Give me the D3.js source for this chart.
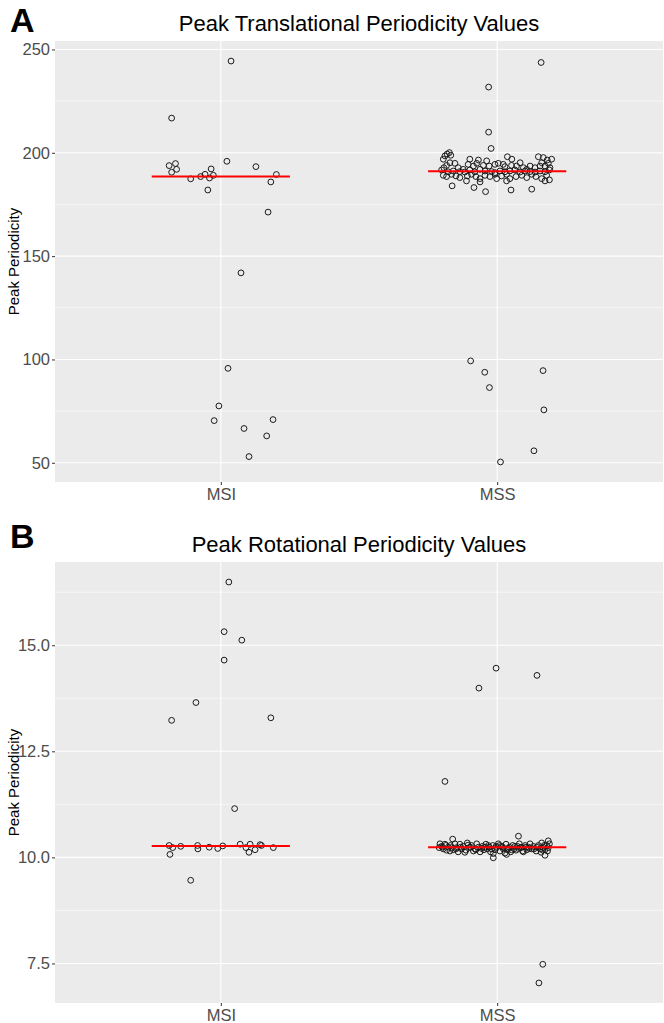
<!DOCTYPE html>
<html><head><meta charset="utf-8">
<script src="https://cdn.jsdelivr.net/npm/d3@7"></script>
<style>body{margin:0;background:#fff}svg{display:block}text{font-family:"Liberation Sans",Arial,sans-serif}</style>
</head><body><div id="chart"></div>
<script>
// ---------- DATA ----------
const categories = ["MSI", "MSS"];
const titleA = "Peak Translational Periodicity Values";
const titleB = "Peak Rotational Periodicity Values";
const yLabel = "Peak Periodicity";
const ticksA = [50, 100, 150, 200, 250];
const minorA = [75, 125, 175, 225];
const ticksB = [7.5, 10.0, 12.5, 15.0];
const tickLabelsB = ["7.5", "10.0", "12.5", "15.0"];
const minorB = [8.75, 11.25, 13.75, 16.25];
// red summary line (median)
const medianA = [188.5, 191.1];
const medianB = [10.27, 10.24];

// Panel A, MSI: values and horizontal jitter (category units)
const transMSI = [244.4,216.8,193.8,194.8,192.0,190.6,187.4,188.5,189.6,192.2,187.8,189.1,182.0,195.9,193.3,189.5,185.9,171.3,141.9,95.7,77.5,70.4,70.9,66.6,63.0,53.0];
const transMSIJit = [0.037,-0.178,-0.187,-0.164,-0.160,-0.178,-0.109,-0.073,-0.057,-0.035,-0.041,-0.027,-0.047,0.022,0.127,0.201,0.181,0.171,0.073,0.026,-0.007,-0.024,0.189,0.084,0.166,0.102];
// Panel A, MSS
const transMSS = [198.5,199.4,200.1,198.8,196.9,196.9,196.5,196.1,198.1,196.9,195.2,198.1,197.7,196.5,196.9,195.2,194.9,
195.2,194.9,193.9,192.8,192.8,192.0,194.4,193.6,194.9,193.9,193.6,194.4,194.9,194.4,193.3,193.9,193.6,192.8,192.0,193.6,192.8,193.6,193.6,192.8,
191.7,190.8,191.2,190.9,190.7,191.7,190.8,192.0,191.2,190.9,190.4,191.2,190.8,191.2,191.7,190.7,191.2,190.9,190.7,191.2,190.8,191.7,
189.1,188.5,189.6,188.8,188.0,188.8,189.6,188.5,187.5,189.1,188.5,189.6,187.5,188.8,189.6,187.5,188.5,189.1,188.0,189.6,188.5,187.5,189.1,186.9,186.4,186.4,185.9,186.4,
184.0,183.2,181.2,182.0,182.4,
243.7,231.8,210.0,202.1,99.3,93.8,86.4,94.6,75.6,55.8,50.4];
const transMSSJit = [-0.189,-0.181,-0.173,-0.168,-0.195,-0.099,-0.068,-0.038,0.037,0.053,0.083,0.149,0.167,0.181,0.197,0.161,0.185,
-0.171,-0.153,-0.183,-0.193,-0.141,-0.123,-0.105,-0.086,-0.074,-0.050,-0.029,-0.008,0.004,0.022,0.028,0.052,0.070,0.095,0.107,0.119,0.137,0.155,0.173,0.191,
-0.201,-0.177,-0.159,-0.135,-0.117,-0.099,-0.081,-0.062,-0.044,-0.020,-0.008,0.010,0.028,0.046,0.064,0.083,0.101,0.119,0.137,0.155,0.173,0.189,
-0.195,-0.183,-0.165,-0.149,-0.135,-0.108,-0.093,-0.077,-0.062,-0.044,-0.026,-0.008,-0.002,0.016,0.034,0.046,0.068,0.089,0.107,0.125,0.140,0.161,0.179,0.189,0.173,-0.111,-0.062,0.034,
-0.163,-0.084,-0.042,0.050,0.125,
0.159,-0.031,-0.031,-0.022,-0.096,-0.045,-0.028,0.166,0.169,0.133,0.012];

// Panel B, MSI
const rotMSI = [16.49,15.32,15.12,14.65,13.65,13.23,13.29,11.15,10.28,10.23,10.07,10.26,10.28,10.20,10.24,10.21,10.27,10.31,10.23,10.31,10.12,10.18,10.30,10.28,10.23,9.46];
const rotMSIJit = [0.029,0.012,0.076,0.012,-0.090,-0.178,0.181,0.050,-0.187,-0.174,-0.184,-0.145,-0.084,-0.083,-0.042,-0.011,0.007,0.070,0.091,0.106,0.102,0.124,0.142,0.147,0.190,-0.109];
// Panel B, MSS
const rotMSS = [10.32,10.26,10.20,10.23,10.31,10.17,10.24,10.28,10.18,10.32,10.23,10.13,10.31,10.20,10.26,10.17,10.34,10.23,10.28,10.15,10.20,10.32,10.24,10.13,10.26,10.18,10.31,10.20,10.24,10.13,10.28,10.18,10.23,10.32,10.15,10.26,10.20,10.10,10.31,10.18,10.24,10.13,10.28,10.20,10.17,10.26,10.32,10.23,10.15,10.28,10.18,10.24,10.32,10.20,10.26,10.15,10.28,10.20,10.34,10.24,10.18,10.28,10.23,10.32,
10.24,10.23,10.24,10.24,10.21,10.28,10.26,10.24,10.21,10.26,10.24,10.21,10.24,10.28,10.15,10.12,10.09,10.07,10.13,10.12,
10.28,10.20,10.29,10.18,10.24,10.20,10.28,10.18,10.21,10.24,10.20,10.17,10.15,
10.43,10.50,9.99,10.05,10.39,
11.79,13.99,14.46,14.29,7.48,7.04];
const rotMSSJit = [-0.207,-0.201,-0.195,-0.210,-0.189,-0.183,-0.177,-0.169,-0.159,-0.153,-0.147,-0.141,-0.135,-0.129,-0.123,-0.113,-0.108,-0.101,-0.093,-0.086,-0.080,-0.074,-0.068,-0.062,-0.053,-0.048,-0.041,-0.036,-0.029,-0.024,-0.016,-0.008,-0.002,0.004,0.010,0.016,0.022,0.028,0.032,0.037,0.044,0.049,0.056,0.061,0.068,0.073,0.080,0.085,0.092,0.101,0.107,0.113,0.119,0.125,0.131,0.141,0.149,0.155,0.161,0.167,0.173,0.179,0.185,0.189,
-0.198,-0.165,-0.132,-0.096,-0.056,-0.032,-0.004,0.020,0.040,0.064,0.089,0.116,0.143,0.170,-0.171,-0.117,-0.014,0.034,0.095,0.159,
-0.186,-0.149,-0.105,-0.077,-0.044,-0.020,0.008,0.052,0.077,0.104,0.133,0.165,0.182,
-0.161,0.077,-0.014,0.173,0.185,
-0.189,-0.066,-0.004,0.144,0.165,0.151];

// ---------- DRAWING ----------
const W = 664, H = 1023;
const svg = d3.select("#chart").append("svg").attr("width", W).attr("height", H);

function panel(cfg) {
  const {top, bottom, left, right, title, letter, letterY, groups, jits, medians, ticks, tickLabels, minor} = cfg;
  const g = svg.append("g");
  const all = groups.flat();
  const [lo, hi] = d3.extent(all);
  const pad = (hi - lo) * 0.05;
  const y = d3.scaleLinear().domain([lo - pad, hi + pad]).range([bottom, top]);
  const x = d3.scaleLinear().domain([0.4, 2.6]).range([left, right]);

  g.append("rect").attr("x", left).attr("y", top).attr("width", right - left).attr("height", bottom - top).attr("fill", "#EBEBEB");
  // minor grid
  g.selectAll(".mn").data(minor.filter(v => y(v) > top && y(v) < bottom)).join("line")
    .attr("x1", left).attr("x2", right).attr("y1", d => y(d)).attr("y2", d => y(d))
    .attr("stroke", "#fff").attr("stroke-width", 0.55);
  // major grid
  g.selectAll(".mj").data(ticks).join("line")
    .attr("x1", left).attr("x2", right).attr("y1", d => y(d)).attr("y2", d => y(d))
    .attr("stroke", "#fff").attr("stroke-width", 1.1);
  g.selectAll(".vx").data(categories).join("line")
    .attr("x1", (d, i) => x(i + 1)).attr("x2", (d, i) => x(i + 1)).attr("y1", top).attr("y2", bottom)
    .attr("stroke", "#fff").attr("stroke-width", 1.1);

  // y axis
  const yAxis = d3.axisLeft(y).tickValues(ticks).tickSize(3).tickPadding(2)
    .tickFormat((d, i) => tickLabels ? tickLabels[i] : d);
  const ya = g.append("g").attr("transform", `translate(${left},0)`).call(yAxis);
  ya.select(".domain").remove();
  ya.selectAll("line").attr("stroke", "#333").attr("stroke-width", 1);
  ya.selectAll("text").attr("fill", "#4D4D4D").attr("font-size", 16.5);
  // x axis
  const xAxis = d3.axisBottom(x).tickValues([1, 2]).tickSize(3).tickPadding(3)
    .tickFormat(d => categories[d - 1]);
  const xa = g.append("g").attr("transform", `translate(0,${bottom})`).call(xAxis);
  xa.select(".domain").remove();
  xa.selectAll("line").attr("stroke", "#333").attr("stroke-width", 1);
  xa.selectAll("text").attr("fill", "#4D4D4D").attr("font-size", 16.5);

  // points
  groups.forEach((vals, gi) => {
    g.append("g").selectAll("circle").data(vals).join("circle")
      .attr("cx", (d, i) => x(gi + 1 + jits[gi][i]))
      .attr("cy", d => y(d))
      .attr("r", 2.9)
      .attr("fill", "none").attr("stroke", "#1a1a1a").attr("stroke-width", 1);
  });
  // median lines
  g.selectAll(".med").data(medians).join("line")
    .attr("x1", (d, i) => x(i + 1 - 0.25)).attr("x2", (d, i) => x(i + 1 + 0.25))
    .attr("y1", d => y(d)).attr("y2", d => y(d))
    .attr("stroke", "#FF0000").attr("stroke-width", 2);

  // title
  g.append("text").attr("x", (left + right) / 2).attr("y", top - 10).attr("text-anchor", "middle")
    .attr("font-size", 22).attr("fill", "#000").text(title);
  // y label
  g.append("text").attr("transform", `translate(19,${(top + bottom) / 2}) rotate(-90)`)
    .attr("text-anchor", "middle").attr("font-size", 15).attr("fill", "#000").text(yLabel);
  // panel letter
  g.append("text").attr("x", 10).attr("y", letterY).attr("font-size", 34).attr("font-weight", "bold")
    .attr("fill", "#000").text(letter);
}

panel({top: 41, bottom: 482, left: 55, right: 663, title: titleA, letter: "A", letterY: 32,
  groups: [transMSI, transMSS], jits: [transMSIJit, transMSSJit], medians: medianA,
  ticks: ticksA, tickLabels: null, minor: minorA});
panel({top: 562, bottom: 1003, left: 55, right: 663, title: titleB, letter: "B", letterY: 548,
  groups: [rotMSI, rotMSS], jits: [rotMSIJit, rotMSSJit], medians: medianB,
  ticks: ticksB, tickLabels: tickLabelsB, minor: minorB});
</script></body></html>
